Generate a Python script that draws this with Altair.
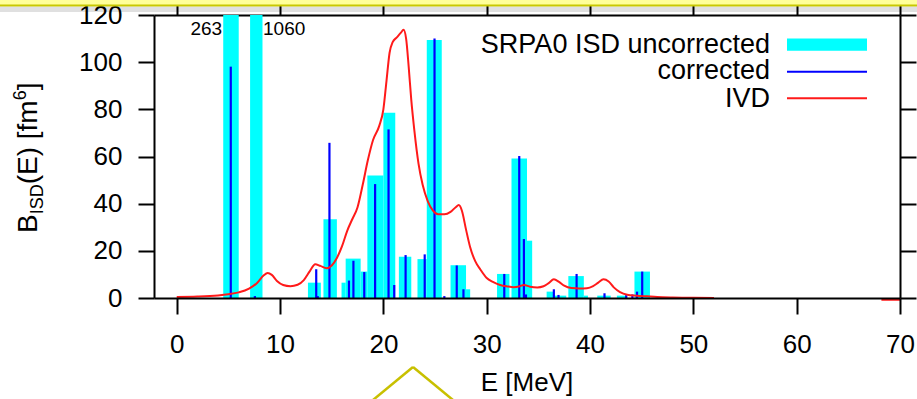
import altair as alt
import pandas as pd

# ---- data ----
# SRPA0 ISD uncorrected strength: energy bins (MeV) and strength (fm^6)
unc_lo = [4.5, 7.1, 12.7, 14.2, 15.95, 16.35, 17.8, 18.45, 20.0, 21.5, 23.3, 24.2,
          26.5, 28.0, 31.0, 32.4, 33.9, 35.8, 36.5, 37.9, 39.4, 40.7, 42.6, 44.3]
unc_hi = [6.0, 8.3, 13.95, 15.5, 16.35, 17.8, 18.45, 20.0, 21.15, 22.7, 24.2, 25.65,
          28.0, 28.4, 32.2, 33.9, 34.4, 36.5, 37.7, 39.4, 39.8, 42.0, 43.6, 45.8]
unc_b = [263, 1060, 6.5, 33.4, 6.5, 16.7, 11.2, 51.9, 78.6, 17.5, 16.5, 109.4,
         13.9, 3.7, 10.2, 59.2, 24.3, 2.7, 1.0, 9.3, 1.0, 1.0, 1.0, 11.2]

# corrected strength (sticks)
cor_e = [5.23, 7.56, 13.5, 13.65, 14.78, 16.67, 17.1, 18.15, 19.2, 20.5, 21.05, 22.15,
         24.0, 24.95, 25.9, 27.1, 27.75, 31.7, 33.15, 33.6, 33.8, 36.5, 36.95, 38.7,
         41.4, 43.5, 44.1, 44.55, 45.05]
cor_b = [98.1, 0.8, 12.2, 0.8, 65.8, 7.4, 15.8, 11.0, 48.3, 71.5, 5.5, 18.2,
         18.5, 110.0, 0.8, 13.8, 3.7, 10.2, 60.2, 25.0, 1.5, 3.7, 1.3, 10.2,
         2.0, 1.2, 1.5, 2.7, 11.2]

# IVD curve
ivd_e = [0, 2, 4, 5, 6, 7, 7.8, 8.4, 8.8, 9.2, 9.7, 10.3, 11.0, 11.7, 12.3, 12.9, 13.4,
         13.9, 14.5, 15.0, 15.5, 16.0, 16.5, 17.0, 17.5, 18.0, 18.5, 19.0, 19.6, 20.0,
         20.3, 20.6, 20.9, 21.3, 21.7, 21.95, 22.2, 22.45, 22.7, 23.0, 23.4, 23.8, 24.3,
         24.8, 25.3, 25.9, 26.5, 27.0, 27.3, 27.6, 28.0, 28.4, 28.9, 29.4, 30.0, 30.6,
         31.3, 32.0, 32.6, 33.2, 33.6, 34.2, 34.9, 35.5, 36.0, 36.5, 37.0, 37.5, 38.2,
         39.0, 39.7, 40.3, 40.8, 41.3, 41.8, 42.3, 42.9, 43.6, 44.5, 45.5, 46.5, 48.0,
         50.0, 52.0, 60.0, 68.2, 70.0]
ivd_b = [0.4, 0.6, 1.1, 1.6, 2.4, 4.0, 6.5, 9.5, 10.6, 9.8, 7.2, 5.5, 5.0, 5.6, 7.6, 11.5,
         14.3, 13.6, 12.6, 13.8, 17.0, 22.0, 28.5, 33.5, 38.5, 48.0, 58.5, 67.0, 73.0,
         80.0, 92.0, 104.0, 108.5, 110.5, 112.5, 113.7, 110.0, 98.0, 84.0, 71.0, 57.0,
         48.0, 41.0, 37.0, 35.5, 35.5, 36.5, 38.5, 39.4, 37.0, 29.0, 21.5, 15.5, 12.0,
         8.5, 6.8, 5.5, 4.9, 4.6, 5.0, 5.5, 4.8, 4.5, 5.0, 6.3, 7.9, 6.8, 5.2, 4.2, 4.0,
         4.1, 5.0, 6.5, 7.9, 7.0, 4.5, 2.5, 1.4, 1.0, 0.7, 0.4, 0.2, 0.1, 0.0, None,
         -0.7, -0.7]

x_ticks = [0, 10, 20, 30, 40, 50, 60, 70]
y_ticks = [0, 20, 40, 60, 80, 100, 120]

legend_labels = ["SRPA0 ISD uncorrected", "corrected", "IVD"]
clip_labels_e = [4.4, 8.35]
clip_labels_txt = ["263", "1060"]

# ---- chart ----
FONT = "Liberation Sans"
FS = 26
W, H = 746, 283

xs = alt.Scale(domain=[-2.2, 70], nice=False, zero=False)
ys = alt.Scale(domain=[0, 120], nice=False, zero=False)

common_ax = dict(title=None, tickSize=16, tickWidth=2, domainWidth=2, domainColor="black",
                 tickColor="black", labelFont=FONT, labelFontSize=FS, labelColor="black",
                 grid=False, labelOverlap=False, labelFlush=False)
ax_bottom = alt.Axis(values=x_ticks, orient="bottom", labelPadding=17, zindex=1, **common_ax)
ax_left = alt.Axis(values=y_ticks, orient="left", labelPadding=16, zindex=0, **common_ax)
ax_top = alt.Axis(values=x_ticks, orient="top", labels=False, zindex=0, **common_ax)
ax_right = alt.Axis(values=y_ticks, orient="right", labels=False, zindex=0, **common_ax)

unc_df = pd.DataFrame({"lo": unc_lo, "hi": unc_hi, "B": unc_b})
cor_df = pd.DataFrame({"E": cor_e, "B": cor_b})
ivd_df = pd.DataFrame({"E": ivd_e, "B": ivd_b})
one = pd.DataFrame({"a": [0]})

bars = alt.Chart(unc_df).mark_rect(color="#00ffff", clip=True).encode(
    x=alt.X("lo:Q", scale=xs, axis=ax_bottom), x2="hi:Q",
    y=alt.Y("B:Q", scale=ys, axis=ax_left), y2=alt.datum(0))

sticks = alt.Chart(cor_df).mark_rule(color="#0000ff", strokeWidth=2.2, clip=True).encode(
    x=alt.X("E:Q", scale=xs, axis=ax_bottom),
    y=alt.Y("B:Q", scale=ys, axis=ax_left), y2=alt.datum(0))

ivd = alt.Chart(ivd_df).mark_line(color="#ff1a1a", strokeWidth=2, interpolate="monotone").encode(
    x=alt.X("E:Q", scale=xs, axis=ax_bottom),
    y=alt.Y("B:Q", scale=ys, axis=ax_left))

lab_df = pd.DataFrame({"E": clip_labels_e, "t": clip_labels_txt, "B": [111.5, 111.5]})
lab1 = alt.Chart(lab_df.iloc[[0]]).mark_text(font=FONT, fontSize=19, align="right",
                                              baseline="alphabetic", color="black").encode(
    x=alt.X("E:Q", scale=xs, axis=ax_bottom), y=alt.Y("B:Q", scale=ys, axis=ax_left), text="t:N")
lab2 = alt.Chart(lab_df.iloc[[1]]).mark_text(font=FONT, fontSize=19, align="left",
                                              baseline="alphabetic", color="black").encode(
    x=alt.X("E:Q", scale=xs, axis=ax_bottom), y=alt.Y("B:Q", scale=ys, axis=ax_left), text="t:N")

# legend (custom, gnuplot style: label left of sample)
LFS = 27
leg_layers = []
for lbl, yb in zip(legend_labels, [37.7, 64.3, 91.5]):
    leg_layers.append(alt.Chart(one).mark_text(font=FONT, fontSize=LFS, align="right",
                                               baseline="alphabetic", color="black").encode(
        x=alt.value(616), y=alt.value(yb), text=alt.value(lbl)))
leg_layers.append(alt.Chart(one).mark_rect(color="#00ffff").encode(
    x=alt.value(633), x2=alt.value(713), y=alt.value(23.5), y2=alt.value(35.7)))
leg_layers.append(alt.Chart(one).mark_rule(color="#0000ff", strokeWidth=2).encode(
    x=alt.value(633), x2=alt.value(713), y=alt.value(56.7)))
leg_layers.append(alt.Chart(one).mark_rule(color="#ff1a1a", strokeWidth=2).encode(
    x=alt.value(633), x2=alt.value(713), y=alt.value(83.3)))

# axis titles
def rtext(t, x, y, fs):
    return alt.Chart(one).mark_text(font=FONT, fontSize=fs, angle=270, align="left",
                                    baseline="alphabetic", color="black").encode(
        x=alt.value(x), y=alt.value(y), text=alt.value(t))

BF, SF = 28, 18
ytitle = [rtext("B", -117.3, 218, BF),          # 218 -> 199.3
          rtext("ISD", -111.5, 199.3, SF),      # -> 169.3
          rtext("(E) [fm", -117.3, 169.3, BF),  # -> 85.3
          rtext("6", -128.0, 85.3, SF),         # -> 75.3
          rtext("]", -117.3, 75.3, BF)]
xtitle = alt.Chart(one).mark_text(font=FONT, fontSize=FS, align="center",
                                  baseline="alphabetic", color="black").encode(
    x=alt.value(373), y=alt.value(376), text=alt.value("E [MeV]"))

# slide overlays (yellow callout strip at top, pointer at bottom)
shadow = alt.Chart(one).mark_rect(color="black", opacity=0.12).encode(
    x=alt.value(-154), x2=alt.value(763), y=alt.value(-8.5), y2=alt.value(-3))
ybox = alt.Chart(one).mark_rect(fill="#ffff99", stroke="#c8c800", strokeWidth=2).encode(
    x=alt.value(-170), x2=alt.value(780), y=alt.value(-30), y2=alt.value(-9.5))
tri1 = alt.Chart(one).mark_rule(color="#c8c000", strokeWidth=2.5).encode(
    x=alt.value(219), y=alt.value(385), x2=alt.value(259), y2=alt.value(352))
tri2 = alt.Chart(one).mark_rule(color="#c8c000", strokeWidth=2.5).encode(
    x=alt.value(259), y=alt.value(352), x2=alt.value(299), y2=alt.value(385))

main = alt.layer(bars, sticks, ivd, lab1, lab2, *leg_layers, *ytitle, xtitle,
                 shadow, ybox, tri1, tri2)

frame = alt.Chart(one).mark_point(opacity=0).encode(
    x=alt.X("a:Q", scale=xs, axis=ax_top),
    y=alt.Y("a:Q", scale=ys, axis=ax_right))

chart = alt.layer(main, frame).resolve_axis(x="independent", y="independent").properties(
    width=W, height=H,
    padding={"left": 154, "top": 15, "right": 17, "bottom": 101},
    autosize=alt.AutoSizeParams(type="none"),
    background="white",
).configure_view(stroke=None)

chart.save("out.html", embed_options={"renderer": "svg", "actions": False})
